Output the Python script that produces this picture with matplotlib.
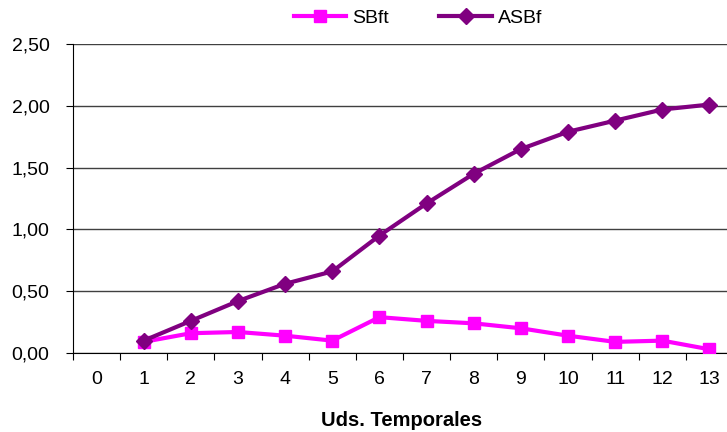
import matplotlib
matplotlib.use("Agg")
import matplotlib.pyplot as plt
from matplotlib.ticker import FuncFormatter, FixedLocator

plt.rcParams['font.family'] = ['Liberation Sans', 'DejaVu Sans']

periods = list(range(0, 14))
t_data = list(range(1, 14))
sbft = [0.09, 0.16, 0.17, 0.14, 0.10, 0.29, 0.26, 0.24, 0.20, 0.14, 0.09, 0.10, 0.03]
asbf = [0.10, 0.26, 0.42, 0.56, 0.66, 0.95, 1.21, 1.45, 1.65, 1.79, 1.88, 1.97, 2.01]
yticks = [0.0, 0.5, 1.0, 1.5, 2.0, 2.5]

fig = plt.figure(figsize=(7.27, 4.32), dpi=100)
ax = fig.add_axes([73 / 727, 79 / 432, 660 / 727, 309 / 432])

ax.plot(t_data, sbft, color='#FF00FF', lw=3, marker='s', ms=8.5, label='SBft', zorder=3)
ax.plot(t_data, asbf, color='#800080', lw=3, marker='D', ms=8, label='ASBf', zorder=4)

ax.set_xlim(-0.5, 13.5)
ax.set_ylim(0, 2.5)
ax.set_yticks(yticks)
ax.yaxis.set_major_formatter(FuncFormatter(lambda v, p: f"{v:.2f}".replace('.', ',')))
ax.grid(axis='y', color='#404040', lw=1)
ax.set_axisbelow(True)

# category labels centred, tick marks on the boundaries
ax.xaxis.set_major_locator(FixedLocator([p - 0.5 for p in periods] + [13.5]))
ax.xaxis.set_major_formatter(FuncFormatter(lambda v, p: ''))
ax.xaxis.set_minor_locator(FixedLocator(periods))
ax.xaxis.set_minor_formatter(FuncFormatter(lambda v, p: str(int(round(v)))))
ax.tick_params(axis='x', which='major', length=5, color='black', direction='out')
ax.tick_params(axis='x', which='minor', length=0, labelsize=14, pad=13)
ax.tick_params(axis='y', length=5, color='black', labelsize=14, pad=12)

for s in ['top', 'right']:
    ax.spines[s].set_visible(False)
ax.spines['left'].set_color('black')
ax.spines['bottom'].set_color('black')

ax.set_xlabel('Uds. Temporales', fontsize=14.5, fontweight='bold', va='center')
ax.xaxis.set_label_coords((402 - 73) / 660, (353 - 421) / 309)

fig.legend(loc='center', bbox_to_anchor=(418 / 727, 1 - 18 / 432), ncol=2, frameon=False,
           fontsize=14, handlelength=2.7, columnspacing=2.6, handletextpad=0.3)

fig.savefig('out.png', dpi=100)
